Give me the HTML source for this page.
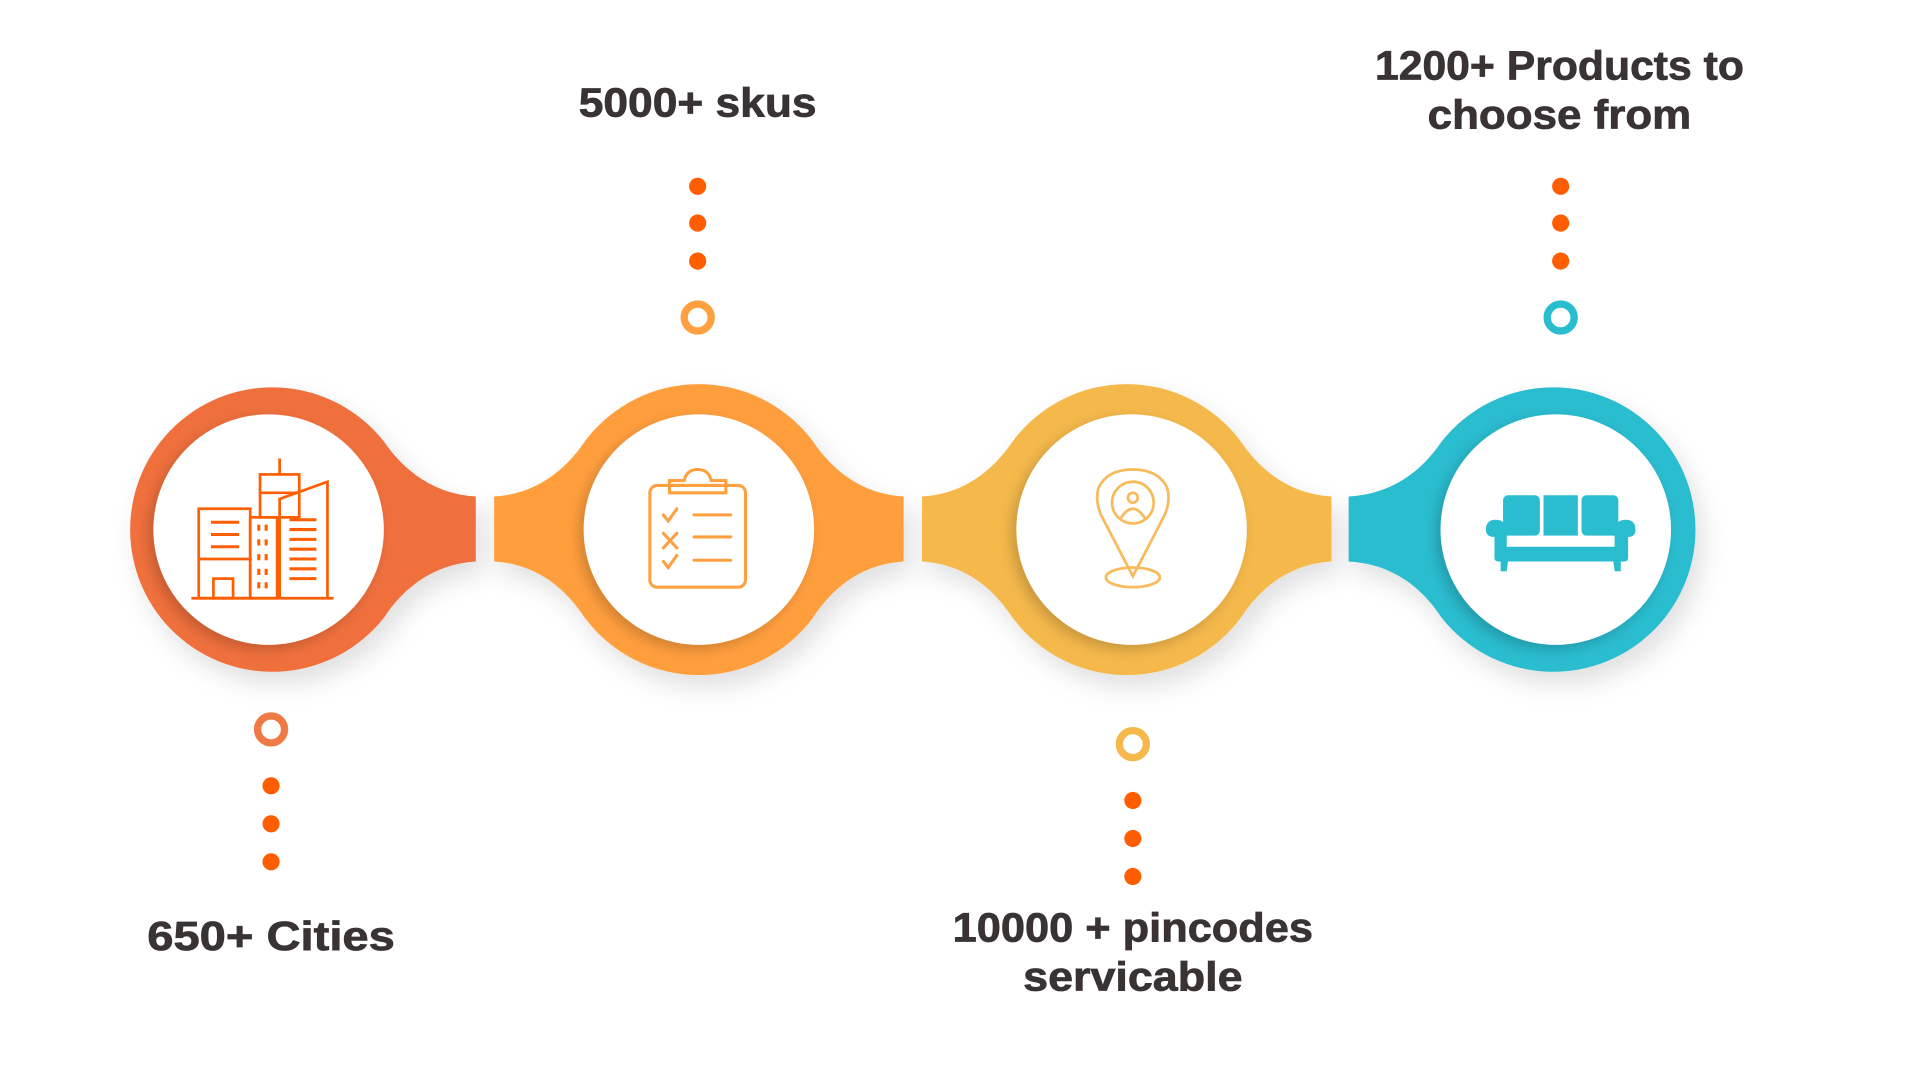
<!DOCTYPE html>
<html><head><meta charset="utf-8"><style>html,body{margin:0;padding:0;background:#fff;width:1920px;height:1080px;overflow:hidden}</style></head>
<body>
<svg width="1920" height="1080" viewBox="0 0 1566 881" xmlns="http://www.w3.org/2000/svg" font-family="Liberation Sans, sans-serif">
<defs>
<filter id="sh" x="-20%" y="-20%" width="140%" height="150%"><feDropShadow dx="6" dy="10" stdDeviation="10" flood-color="#000" flood-opacity="0.12"/></filter>
<filter id="sh2" x="-20%" y="-20%" width="140%" height="140%"><feDropShadow dx="-4" dy="4" stdDeviation="5" flood-color="#000" flood-opacity="0.18"/></filter>
</defs>
<path filter="url(#sh)" fill="#EF703E" d="M388,405 C355,403 330,385 313,360 A116 116 0 1 0 313,504 C330,478 355,460 388,458 Z"/>
<path filter="url(#sh)" fill="#FF9E3D" d="M737,405 C704,403 680,385 663,360 A116 116 0 0 0 477,360 C460,385 436,403 403,405 L403,458 C436,460 460,478 477,504 A116 116 0 0 0 663,504 C680,478 704,460 737,458 Z"/>
<path filter="url(#sh)" fill="#F4B84B" d="M1086,405 C1053,403 1029,385 1012,360 A116 116 0 0 0 826,360 C809,385 785,403 752,405 L752,458 C785,460 809,478 826,504 A116 116 0 0 0 1012,504 C1029,478 1053,460 1086,458 Z"/>
<path filter="url(#sh)" fill="#2ABCCF" d="M1176,360 A116 116 0 1 1 1176,504 C1159,478 1135,460 1100,458 L1100,405 C1135,403 1159,385 1176,360 Z"/>
<circle cx="219" cy="432" r="94" fill="#fff" filter="url(#sh2)"/>
<circle cx="570" cy="432" r="94" fill="#fff" filter="url(#sh2)"/>
<circle cx="923" cy="432" r="94" fill="#fff" filter="url(#sh2)"/>
<circle cx="1269" cy="432" r="94" fill="#fff" filter="url(#sh2)"/>

<g fill="none" stroke="#FF5E00" stroke-width="2.2">
<line x1="156" y1="488" x2="272" y2="488"/>
<rect x="162" y="415" width="42" height="73"/>
<line x1="162" y1="456" x2="204" y2="456"/>
<rect x="174" y="472" width="16" height="16"/>
<rect x="204" y="422" width="22" height="66"/>
<rect x="212" y="387" width="32" height="35"/>
<line x1="212" y1="402" x2="244" y2="402"/>
<line x1="228" y1="374" x2="228" y2="387"/>
<path d="M228,488 V407 L267,393 V488"/>
<g stroke-width="2.5"><line x1="172" y1="426" x2="195" y2="426"/><line x1="172" y1="436" x2="195" y2="436"/><line x1="172" y1="446" x2="195" y2="446"/>
<line x1="236" y1="424" x2="258" y2="424"/><line x1="236" y1="432" x2="258" y2="432"/><line x1="236" y1="440" x2="258" y2="440"/><line x1="236" y1="448" x2="258" y2="448"/><line x1="236" y1="456" x2="258" y2="456"/><line x1="236" y1="464" x2="258" y2="464"/><line x1="236" y1="472" x2="258" y2="472"/>
<path d="M211,428v5M217,428v5M211,440v5M217,440v5M211,452v5M217,452v5M211,464v5M217,464v5M211,475v5M217,475v5"/></g>
</g>
<g fill="none" stroke="#FFA040" stroke-width="2.5" stroke-linecap="round">
<rect x="530" y="396" width="78" height="83" rx="6"/>
<path d="M546,392 h12 q2,-9 11,-9 q9,0 11,9 h12 v10 h-46 z"/>
<path d="M541,420 l4,5 l7,-10 M541,458 l4,5 l7,-10 M541,435 l11,12 M552,435 l-11,12"/>
<line x1="566" y1="420" x2="596" y2="420"/><line x1="566" y1="438" x2="596" y2="438"/><line x1="566" y1="457" x2="596" y2="457"/>
</g>
<g fill="none" stroke="#F8BA5A" stroke-width="2.2">
<path d="M924,470 L898,420 Q893,408 896,398 Q903,383 924,383 Q945,383 952,398 Q955,408 950,420 Z"/>
<circle cx="924" cy="410" r="17"/>
<circle cx="924" cy="406" r="4"/>
<path d="M914,423 q10,-16 20,0"/>
<ellipse cx="924" cy="471" rx="22" ry="8"/>
</g>
<g fill="#2ABCCF">
<rect x="1226" y="404" width="30" height="33" rx="4"/>
<rect x="1259" y="404" width="28" height="33"/>
<rect x="1290" y="404" width="30" height="33" rx="4"/>
<path d="M1212,432 q0,-8 8,-8 q9,0 9,10 v12 h88 v-12 q0,-10 9,-10 q8,0 8,8 q0,6 -6,6 v17 q0,3 -3,3 h-103 q-3,0 -3,-3 v-17 q-7,0 -7,-6z"/>
<rect x="1230" y="437" width="86" height="3" fill="#fff"/>
<path d="M1224,458 h6 l-1,8 h-5z M1316,458 h6 v8 h-5z"/>
</g>

<g fill="#FF5E00">
<circle cx="221" cy="641" r="7"/><circle cx="221" cy="672" r="7"/><circle cx="221" cy="703" r="7"/>
<circle cx="569" cy="152" r="7"/><circle cx="569" cy="182" r="7"/><circle cx="569" cy="213" r="7"/>
<circle cx="924" cy="653" r="7"/><circle cx="924" cy="684" r="7"/><circle cx="924" cy="715" r="7"/>
<circle cx="1273" cy="152" r="7"/><circle cx="1273" cy="182" r="7"/><circle cx="1273" cy="213" r="7"/>
</g>
<g fill="none" stroke-width="6">
<circle cx="221" cy="595" r="11" stroke="#F07A45"/>
<circle cx="569" cy="259" r="11" stroke="#FFA040"/>
<circle cx="924" cy="607" r="11" stroke="#F4B84B"/>
<circle cx="1273" cy="259" r="11" stroke="#2ABCCF"/>
</g>

<g fill="#3A3333" stroke="#3A3333" stroke-width="0.6" font-weight="bold" font-size="33" text-anchor="middle">
<text x="221" y="775" textLength="202" lengthAdjust="spacingAndGlyphs">650+ Cities</text>
<text x="569" y="95" textLength="194" lengthAdjust="spacingAndGlyphs">5000+ skus</text>
<text x="924" y="768" textLength="294" lengthAdjust="spacingAndGlyphs">10000 + pincodes</text>
<text x="924" y="808" textLength="179" lengthAdjust="spacingAndGlyphs">servicable</text>
<text x="1272" y="65" textLength="301" lengthAdjust="spacingAndGlyphs">1200+ Products to</text>
<text x="1272" y="105" textLength="215" lengthAdjust="spacingAndGlyphs">choose from</text>
</g>
</svg>
</body></html>
